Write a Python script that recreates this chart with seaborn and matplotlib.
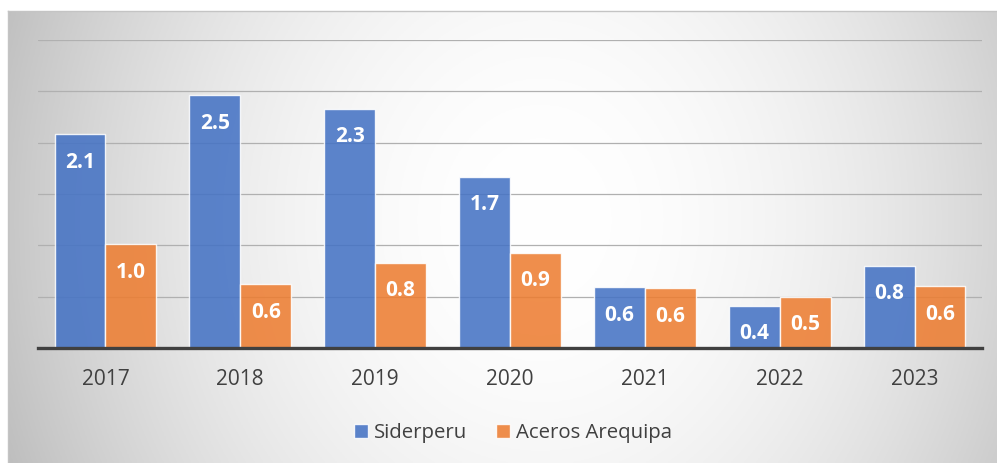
import numpy as np
import pandas as pd
import matplotlib
matplotlib.use("Agg")
import matplotlib.pyplot as plt
import seaborn as sns

years = ['2017', '2018', '2019', '2020', '2021', '2022', '2023']
siderperu = [2.08, 2.46, 2.33, 1.67, 0.59, 0.41, 0.80]
aceros = [1.01, 0.62, 0.83, 0.93, 0.58, 0.50, 0.60]
series_names = ['Siderperu', 'Aceros Arequipa']
colors = ['#4472C4', '#ED7D31']

df = pd.DataFrame({
    'year': years * 2,
    'value': siderperu + aceros,
    'company': [series_names[0]] * len(years) + [series_names[1]] * len(years),
})

sns.set_theme(style='white')
plt.rcParams['font.family'] = ['Open Sans', 'DejaVu Sans']

W, H = 997, 463
fig = plt.figure(figsize=(W / 100, H / 100), dpi=100)
fig.patch.set_facecolor('white')

# background panel with radial gradient
bg = fig.add_axes([8 / W, 0, (W - 8) / W, (H - 11) / H], zorder=0)
nx, ny = 400, 200
xs = np.linspace(8, W, nx)
ys = np.linspace(11, H, ny)
X, Y = np.meshgrid(xs, ys)
r2 = ((X - 540) / 520) ** 2 + ((Y - 220) / 600) ** 2
v = np.clip(1 - 0.21 * r2, 0, 1)
bg.imshow(np.dstack([v, v, v]), aspect='auto', extent=[0, 1, 0, 1], origin='upper')
bg.set_xticks([]); bg.set_yticks([])
for s in ['right', 'bottom']:
    bg.spines[s].set_visible(False)
for s in ['top', 'left']:
    bg.spines[s].set_color('#c4c4c4')
    bg.spines[s].set_linewidth(1.0)

ax = fig.add_axes([38 / W, (H - 348) / H, (982 - 38) / W, (348 - 40) / H], zorder=1)
ax.patch.set_alpha(0)

sns.barplot(data=df, x='year', y='value', hue='company', palette=colors,
            saturation=1, width=0.755, gap=0, alpha=0.87, ax=ax, legend=True,
            zorder=2)

for c in ax.containers:
    for bar in c:
        bar.set_edgecolor((1, 1, 1, 0.55))
        bar.set_linewidth(1.0)
        h = bar.get_height()
        ax.annotate(f'{h:.1f}', xy=(bar.get_x() + bar.get_width() / 2, h),
                    xytext=(0, -20), textcoords='offset points',
                    ha='center', va='center', color='white',
                    fontsize=15, fontweight='bold', zorder=5)

ax.set_ylim(0, 3.0)
ax.set_xlim(-0.5, len(years) - 0.5)
ax.set_yticks(np.arange(0.5, 3.01, 0.5))
ax.yaxis.grid(True, color='#b0b0b0', linewidth=0.9, zorder=1)
ax.set_axisbelow(True)
ax.tick_params(axis='y', left=False, labelleft=False)
ax.tick_params(axis='x', length=0, pad=15, labelsize=15, labelcolor='#404040')
ax.set_xlabel('')
ax.set_ylabel('')
for s in ['top', 'right', 'left']:
    ax.spines[s].set_visible(False)
ax.spines['bottom'].set_color('#404040')
ax.spines['bottom'].set_linewidth(2.4)
ax.spines['bottom'].set_zorder(6)

handles, labels = ax.get_legend_handles_labels()
ax.legend(handles, labels, loc='center', bbox_to_anchor=(513 / W, 30 / H),
          bbox_transform=fig.transFigure, ncol=2, frameon=False,
          fontsize=14.7, handlelength=0.7, handleheight=0.7,
          handletextpad=0.3, columnspacing=1.4, labelcolor='#404040')

fig.savefig('out.png', dpi=100)
